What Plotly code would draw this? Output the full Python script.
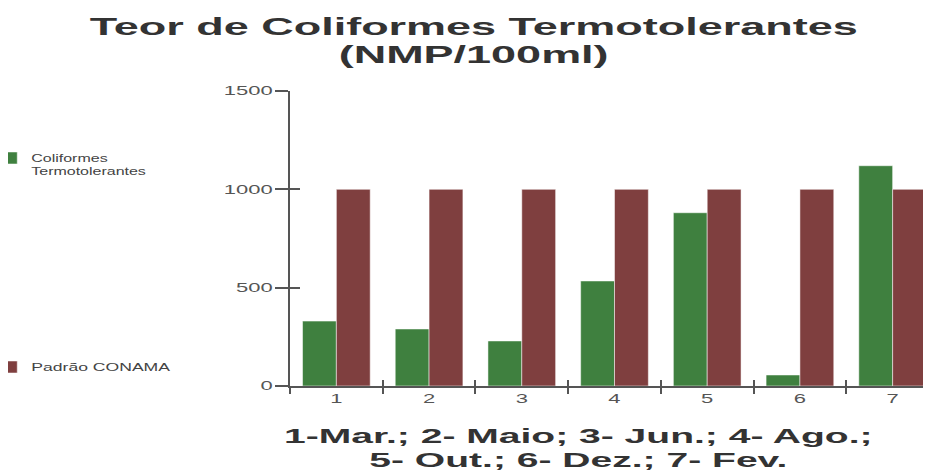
import plotly.graph_objects as go

categories = ["1", "2", "3", "4", "5", "6", "7"]
coliformes = [330, 290, 229, 534, 881, 56, 1120]
padrao_conama = [1000, 1000, 1000, 1000, 1000, 1000, 1000]
y_ticks = [0, 500, 1000, 1500]
title_lines = ["Teor de Coliformes Termotolerantes", "(NMP/100ml)"]
xtitle_lines = ["1-Mar.; 2- Maio; 3- Jun.; 4- Ago.;", "5- Out.; 6- Dez.; 7- Fev."]
series_names = ["Coliformes<br>Termotolerantes", "Padrão CONAMA"]

GREEN = "#3f803f"
RED = "#7f3f3f"
AXIS = "#555555"
FONT = "Liberation Sans"

fig = go.Figure()
fig.add_trace(go.Bar(
    x=categories, y=coliformes, name=series_names[0],
    marker=dict(color=GREEN, line=dict(color="rgba(255,255,255,0.5)", width=1)),
    legend="legend",
))
fig.add_trace(go.Bar(
    x=categories, y=padrao_conama, name=series_names[1],
    marker=dict(color=RED, line=dict(color="rgba(255,255,255,0.5)", width=1)),
    legend="legend2",
))
# helper trace for overlay axes (inner halves of the crossing ticks)
fig.add_trace(go.Scatter(x=[0], y=[0], xaxis="x2", yaxis="y2", mode="markers",
                         marker=dict(opacity=0), showlegend=False, hoverinfo="skip"))

n = len(categories)
xr = [-0.5, n - 0.5]
fig.update_layout(
    width=931, height=471,
    margin=dict(l=282, r=0, t=83, b=93, autoexpand=False),
    paper_bgcolor="white", plot_bgcolor="white",
    barmode="group", bargap=0.27, bargroupgap=0,
    font=dict(family=FONT, color=AXIS),
    xaxis=dict(type="category", categoryorder="array", categoryarray=categories,
               range=xr, tickson="boundaries", ticks="outside", ticklen=6,
               tickwidth=1.5, tickcolor=AXIS, showline=True, linecolor=AXIS,
               linewidth=1.5, showgrid=False, zeroline=False,
               tickfont=dict(size=12.5, color=AXIS, family=FONT)),
    xaxis2=dict(overlaying="x", anchor="y", range=xr,
                tickmode="array", tickvals=[i - 0.5 for i in range(n)],
                ticks="inside", ticklen=6, tickwidth=1.5, tickcolor=AXIS,
                showticklabels=False, showline=False, showgrid=False, zeroline=False),
    yaxis=dict(range=[0, 1500], tickmode="array", tickvals=y_ticks,
               ticks="outside", ticklen=13, tickwidth=1.5, tickcolor=AXIS,
               showline=True, linecolor=AXIS, linewidth=1.5,
               showgrid=False, zeroline=False,
               tickfont=dict(size=12.5, color=AXIS, family=FONT)),
    yaxis2=dict(overlaying="y", anchor="x", side="left", range=[0, 1500],
                tickmode="array", tickvals=y_ticks,
                ticks="inside", ticklen=10, tickwidth=1.5, tickcolor=AXIS,
                showticklabels=False, showline=False, showgrid=False, zeroline=False),
    legend=dict(x=-0.4603, y=0.817, xanchor="left", yanchor="top", valign="top",
                bgcolor="rgba(0,0,0,0)", font=dict(size=10, color="#444444", family=FONT)),
    legend2=dict(x=-0.4603, y=0.0644, xanchor="left", yanchor="middle",
                 bgcolor="rgba(0,0,0,0)", font=dict(size=10, color="#444444", family=FONT)),
    showlegend=True,
)

fig.add_annotation(
    xref="paper", yref="paper", x=0.2827, y=1.170, showarrow=False,
    xanchor="center", yanchor="middle",
    text="<br>".join('<span style="font-size:23.5px"><b>%s</b></span>' % s for s in title_lines),
    font=dict(size=21.5, color="#333333", family=FONT),
)
fig.add_annotation(
    xref="paper", yref="paper", x=0.4453, y=-0.2093, showarrow=False,
    xanchor="center", yanchor="middle",
    text="<br>".join('<span style="font-size:21px"><b>%s</b></span>' % s for s in xtitle_lines),
    font=dict(size=18.5, color="#333333", family=FONT),
)

# The reference chart is rendered horizontally stretched: widen the glyphs the same way.
post = """
var gd = document.getElementById('{plot_id}');
function stretchAll(){
  gd.querySelectorAll('[clip-path*="legend"], .legend .scrollbox, .legend2 .scrollbox').forEach(function(s){
    s.removeAttribute('clip-path');
  });
  gd.querySelectorAll('text').forEach(function(t){
    var cur = t.getAttribute('transform') || '';
    var done = t.getAttribute('data-st');
    if (done !== null && done === cur) return;
    var bb; try { bb = t.getBBox(); } catch(e) { return; }
    if (!bb || bb.width === 0) return;
    var K = 1.76;
    if (t.classList.contains('legendtext')) K = 1.6;
    else if (t.classList.contains('annotation-text')) {
      K = (t.textContent.indexOf('Teor') >= 0) ? 1.915 : 1.86;
    }
    var anchor = t.getAttribute('text-anchor') || 'start';
    var cx = anchor === 'end' ? bb.x + bb.width : (anchor === 'middle' ? bb.x + bb.width / 2 : bb.x);
    var nt = (cur + ' translate(' + cx + ',0) scale(' + K + ',1) translate(' + (-cx) + ',0)').trim();
    t.setAttribute('transform', nt);
    t.setAttribute('data-st', nt);
  });
}
stretchAll();
if (gd.on) gd.on('plotly_afterplot', stretchAll);
setTimeout(stretchAll, 50);
"""

fig.write_html("out.html", post_script=post)
